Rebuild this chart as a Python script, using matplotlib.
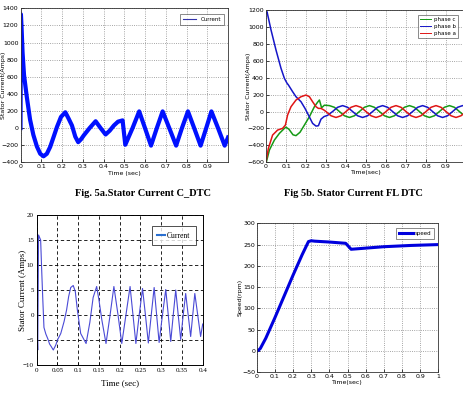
import numpy as np
import matplotlib
matplotlib.use("Agg")
import matplotlib.pyplot as plt

###Fig 5a - stator current C_DTC
t_cdtc = [0.0, 0.002, 0.005, 0.010, 0.017, 0.030, 0.046, 0.062, 0.079, 0.095,
          0.111, 0.127, 0.143, 0.160, 0.176, 0.195, 0.216, 0.232, 0.248, 0.264,
          0.278, 0.292, 0.305, 0.333, 0.362, 0.386, 0.410, 0.430, 0.450, 0.470,
          0.492, 0.505, 0.540, 0.572, 0.600, 0.629, 0.657, 0.685, 0.717, 0.750,
          0.778, 0.807, 0.837, 0.868, 0.895, 0.920, 0.952, 0.984, 1.0]
i_cdtc = [0, 1330, 1180, 880, 620, 370, 100, -80, -215, -300,
          -330, -300, -220, -100, 15, 130, 185, 110, 30, -100,
          -165, -130, -85, 0, 80, 0, -75, -30, 30, 75,
          90, -195, 0, 195, 0, -205, 0, 195, 0, -205,
          0, 195, 0, -205, 0, 195, 0, -205, -110]

###Fig 5b - FL DTC, three phases
t_pa = [0.0, 0.012, 0.033, 0.058, 0.083, 0.097, 0.108, 0.125, 0.150, 0.175,
        0.200, 0.217, 0.233, 0.250, 0.262, 0.275, 0.288, 0.300,
        0.325, 0.350, 0.375, 0.400, 0.425, 0.450, 0.475, 0.500,
        0.525, 0.550, 0.575, 0.600, 0.625, 0.650, 0.675, 0.700,
        0.725, 0.750, 0.775, 0.800, 0.825, 0.850, 0.875, 0.900,
        0.925, 0.950, 0.975, 1.000]
i_pa = [-594, -434, -278, -219, -199, -160, -41, 57, 136, 175,
        195, 175, 116, 57, 37, 37, 20, 0,
        -50, -70, -50, 0, 50, 70, 50, 0,
        -50, -70, -50, 0, 50, 70, 50, 0,
        -50, -70, -50, 0, 50, 70, 50, 0,
        -50, -70, -50, 0]

t_pb = [0.0, 0.005, 0.025, 0.050, 0.075, 0.092, 0.105, 0.112, 0.133, 0.150,
        0.175, 0.195, 0.212, 0.233, 0.250, 0.262, 0.275, 0.290, 0.308,
        0.333, 0.358, 0.383, 0.408, 0.433, 0.458, 0.483, 0.508,
        0.533, 0.558, 0.583, 0.608, 0.633, 0.658, 0.683, 0.708,
        0.733, 0.758, 0.783, 0.808, 0.833, 0.858, 0.883, 0.908,
        0.933, 0.958, 0.983, 1.000]
i_pb = [1160, 1180, 965, 727, 511, 392, 335, 314, 235, 175,
        116, 37, -41, -140, -172, -168, -90, -60, -45,
        0, 50, 70, 50, 0, -50, -70, -50,
        0, 50, 70, 50, 0, -50, -70, -50,
        0, 50, 70, 50, 0, -50, -70, -50,
        0, 50, 70, 60]

t_pc = [0.0, 0.017, 0.042, 0.067, 0.092, 0.100, 0.115, 0.135, 0.150, 0.170,
        0.192, 0.217, 0.242, 0.258, 0.267, 0.278, 0.292,
        0.317, 0.342, 0.367, 0.392, 0.417, 0.442, 0.467, 0.492,
        0.517, 0.542, 0.567, 0.592, 0.617, 0.642, 0.667, 0.692,
        0.717, 0.742, 0.767, 0.792, 0.817, 0.842, 0.867, 0.892,
        0.917, 0.942, 0.967, 0.992, 1.000]
i_pc = [-613, -455, -337, -258, -199, -185, -210, -275, -285, -245,
        -160, -61, 57, 110, 136, 45, 75,
        70, 50, 0, -50, -70, -50, 0, 50,
        70, 50, 0, -50, -70, -50, 0, 50,
        70, 50, 0, -50, -70, -50, 0, 50,
        70, 50, 0, -50, -60]

###Fig 5c - stator current (Amps)
t_cur = [0.0, 0.0015, 0.0025, 0.0045, 0.0095, 0.012, 0.0145, 0.0175, 0.022, 0.027,
         0.031, 0.035, 0.040, 0.046, 0.050, 0.058, 0.066, 0.072, 0.077, 0.082,
         0.088, 0.093, 0.098, 0.106, 0.119, 0.128, 0.136, 0.1445, 0.150, 0.157,
         0.167, 0.176, 0.186, 0.196, 0.205, 0.215, 0.225, 0.232, 0.239, 0.247,
         0.255, 0.262, 0.269, 0.276, 0.283, 0.289, 0.295, 0.303, 0.311, 0.317,
         0.323, 0.329, 0.335, 0.341, 0.347, 0.353, 0.359, 0.365, 0.371, 0.376,
         0.381, 0.388, 0.395, 0.400]
i_cur = [0.0, -4.0, -7.0, 16.0, 15.0, 9.0, 3.5, -2.5, -3.8, -4.8,
         -5.8, -6.3, -7.0, -6.0, -5.0, -3.7, -1.3, 1.0, 3.7, 5.5,
         5.9, 4.7, 1.0, -3.7, -5.7, -1.5, 3.5, 5.7, 3.0, -1.0,
         -5.7, -0.5, 5.7, 0.0, -5.7, 0.0, 5.7, 0.0, -5.7, 0.0,
         5.3, 0.0, -5.6, 0.0, 5.5, 0.0, -5.5, 0.0, 5.1, 0.0,
         -5.3, 0.0, 5.0, 0.0, -4.9, 0.0, 4.3, 0.0, -4.3, 0.0,
         4.3, 0.0, -4.3, -1.8]

###Fig 5d - speed
t_speed = [0.0, 0.01, 0.02, 0.05, 0.10, 0.15, 0.20, 0.25, 0.285, 0.30,
           0.32, 0.40, 0.49, 0.505, 0.52, 0.55, 0.70, 0.85, 1.0]
w_speed = [0, 2, 6, 30, 78, 128, 178, 226, 257, 259,
           258, 256, 253, 246, 239, 240, 245, 248, 250]

ticks_t1 = [0, 0.1, 0.2, 0.3, 0.4, 0.5, 0.6, 0.7, 0.8, 0.9]
ticks_lab1 = ['0', '0.1', '0.2', '0.3', '0.4', '0.5', '0.6', '0.7', '0.8', '0.9']
ticks_t3 = [0, 0.05, 0.1, 0.15, 0.2, 0.25, 0.3, 0.35, 0.4]
ticks_lab3 = ['0', '0.05', '0.1', '0.15', '0.2', '0.25', '0.3', '0.35', '0.4']
ticks_t4 = [0, 0.1, 0.2, 0.3, 0.4, 0.5, 0.6, 0.7, 0.8, 0.9, 1]
ticks_lab4 = ['0', '0.1', '0.2', '0.3', '0.4', '0.5', '0.6', '0.7', '0.8', '0.9', '1']

W, H = 463, 394
fig = plt.figure(figsize=(W / 100, H / 100), dpi=100)


def box(l, t, r, b):
    # pixel box -> figure fraction
    return [l / W, 1 - b / H, (r - l) / W, (b - t) / H]


def matlab_look(ax, fs=4.5):
    ax.grid(True, color='#888888', linestyle=':', linewidth=0.6)
    ax.tick_params(direction='in', length=2, width=0.5, labelsize=fs, pad=1.5)
    for s in ax.spines.values():
        s.set_linewidth(0.6)
        s.set_color('#333333')


###Fig 5a
ax1 = fig.add_axes(box(20.5, 8.3, 228, 162.3))
ax1.plot(t_cdtc, i_cdtc, color='#0010ff', lw=3.0, label='Current')
ax1.set_xlim(0, 1)
ax1.set_ylim(-400, 1400)
ax1.set_yticks(list(range(-400, 1401, 200)))
ax1.set_xticks(ticks_t1)
ax1.set_xticklabels(ticks_lab1)
matlab_look(ax1)
ax1.set_xlabel('Time (sec)', fontsize=4.5)
ax1.set_ylabel('Stator Current(Amps)', fontsize=4.5)
ax1.xaxis.set_label_coords(0.5, -0.055)
ax1.yaxis.set_label_coords(-0.07, 0.5)
leg = ax1.legend(loc='upper right', bbox_to_anchor=(0.995, 0.98), fontsize=4, frameon=True,
                 fancybox=False, handlelength=2.5, borderpad=0.5)
leg.get_frame().set_edgecolor('#333333')
leg.get_frame().set_linewidth(0.5)
for ln in leg.get_lines():
    ln.set_linewidth(0.8)
    ln.set_color('#3333aa')

###Fig 5b
ax2 = fig.add_axes(box(266, 10, 466, 162.3))
ax2.plot(t_pc, i_pc, color='#159a15', lw=1.1, label='phase c')
ax2.plot(t_pb, i_pb, color='#1515c8', lw=1.1, label='phase b')
ax2.plot(t_pa, i_pa, color='#e01515', lw=1.1, label='phase a')
ax2.set_xlim(0, 1)
ax2.set_ylim(-600, 1200)
ax2.set_yticks(list(range(-600, 1201, 200)))
ax2.set_xticks(ticks_t1)
ax2.set_xticklabels(ticks_lab1)
matlab_look(ax2)
ax2.set_xlabel('Time(sec)', fontsize=4.5)
ax2.set_ylabel('Stator Current(Amps)', fontsize=4.5)
ax2.xaxis.set_label_coords(0.5, -0.05)
ax2.yaxis.set_label_coords(-0.075, 0.5)
leg = ax2.legend(loc='upper right', bbox_to_anchor=(0.975, 0.985), fontsize=4, frameon=True,
                 fancybox=False, handlelength=2.0, borderpad=0.4, labelspacing=0.3,
                 handletextpad=0.5)
leg.get_frame().set_edgecolor('#333333')
leg.get_frame().set_linewidth(0.5)
for ln in leg.get_lines():
    ln.set_linewidth(0.7)

###Fig 5c
serif = 'Liberation Serif'
ax3 = fig.add_axes(box(36.7, 215, 202.7, 365))
ax3.plot(t_cur, i_cur, color='#4a4ad6', lw=0.8, label='Current')
ax3.set_xlim(0, 0.4)
ax3.set_ylim(-10, 20)
ax3.set_xticks(ticks_t3)
ax3.set_xticklabels(ticks_lab3)
ax3.set_yticks([-10, -5, 0, 5, 10, 15, 20])
ax3.grid(True, color='black', linestyle=(0, (4, 3)), linewidth=0.6)
ax3.tick_params(direction='in', length=2, width=0.5, labelsize=5, pad=2)
for lab in ax3.get_xticklabels() + ax3.get_yticklabels():
    lab.set_family(serif)
for s in ax3.spines.values():
    s.set_linewidth(0.7)
ax3.set_xlabel('Time (sec)', fontsize=6.5, family=serif)
ax3.set_ylabel('Stator Current (Amps)', fontsize=6.5, family=serif)
ax3.xaxis.set_label_coords(0.5, -0.095)
ax3.yaxis.set_label_coords(-0.06, 0.5)
leg = ax3.legend(loc='upper right', bbox_to_anchor=(0.98, 0.95), prop={'family': serif, 'size': 5.5},
                 frameon=True, fancybox=False, handlelength=1.0, borderpad=0.7, handletextpad=0.3)
leg.get_frame().set_edgecolor('black')
leg.get_frame().set_linewidth(0.6)
for ln in leg.get_lines():
    ln.set_linewidth(1.5)
    ln.set_color('#2a6fd0')

###Fig 5d
ax4 = fig.add_axes(box(256.7, 223.3, 438.3, 372.3))
ax4.plot(t_speed, w_speed, color='#0000dd', lw=2.2, label='speed')
ax4.set_xlim(0, 1)
ax4.set_ylim(-50, 300)
ax4.set_yticks(list(range(-50, 301, 50)))
ax4.set_xticks(ticks_t4)
ax4.set_xticklabels(ticks_lab4)
matlab_look(ax4)
ax4.tick_params(axis='y', pad=1)
ax4.set_xlabel('Time(sec)', fontsize=4.5)
ax4.set_ylabel('Speed(rpm)', fontsize=4.5)
ax4.xaxis.set_label_coords(0.5, -0.05)
ax4.yaxis.set_label_coords(-0.078, 0.5)
leg = ax4.legend(loc='upper right', bbox_to_anchor=(0.99, 0.985), fontsize=4, frameon=True,
                 fancybox=False, handlelength=2.5, borderpad=0.5, handletextpad=0.3)
leg.get_frame().set_edgecolor('#333333')
leg.get_frame().set_linewidth(0.5)

###captions
fig.text(143 / W, 1 - 193 / H, 'Fig. 5a.Stator Current C_DTC', ha='center', va='center',
         family=serif, fontweight='bold', fontsize=7.5)
fig.text(353 / W, 1 - 193 / H, 'Fig 5b. Stator Current FL DTC', ha='center', va='center',
         family=serif, fontweight='bold', fontsize=7.5)

fig.savefig('out.png', dpi=100)
